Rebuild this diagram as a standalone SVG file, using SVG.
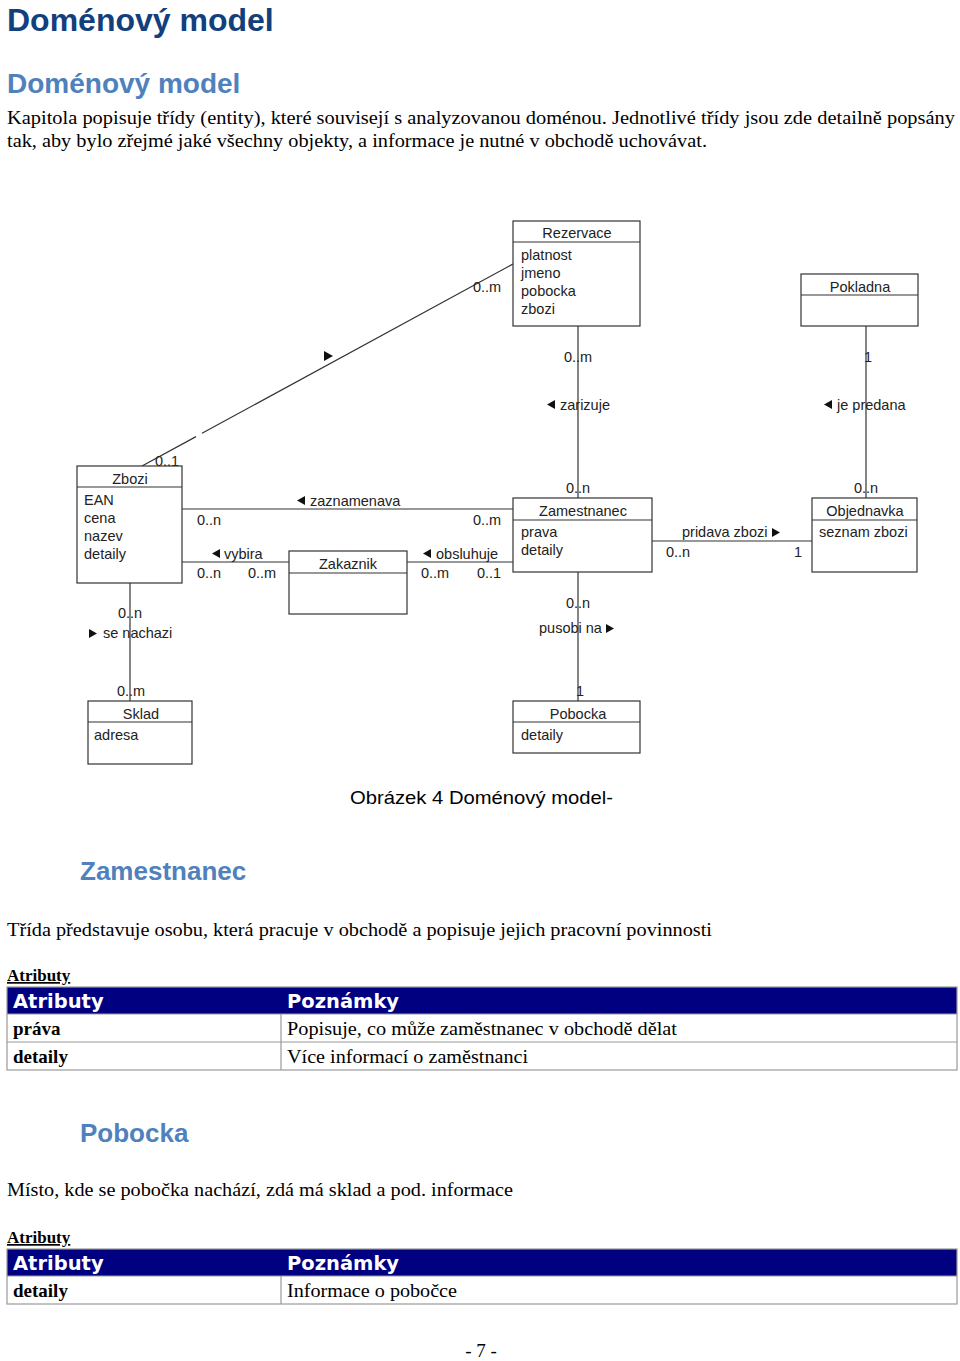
<svg xmlns="http://www.w3.org/2000/svg" width="960" height="1361" viewBox="0 0 960 1361">
<style>
.bg{fill:#fff}
.box{fill:#fff;stroke:#333;stroke-width:1.2}
.div{stroke:#333;stroke-width:1.2}
.ln{stroke:#333;stroke-width:1.2;fill:none}
.t{font-family:"Liberation Sans",Arial,sans-serif;font-size:14.5px;fill:#222}
.h{font-family:"Liberation Sans",Arial,sans-serif;font-size:14.5px;fill:#222;text-anchor:middle}
.m{font-family:"Liberation Sans",Arial,sans-serif;font-size:14.5px;fill:#222}
.tri{fill:#111}
.title{font-family:"Liberation Sans",Arial,sans-serif;font-weight:bold;font-size:32px;fill:#123f7d}
.sub{font-family:"Liberation Sans",Arial,sans-serif;font-weight:bold;font-size:28px;fill:#4f81bd}
.sec{font-family:"Liberation Sans",Arial,sans-serif;font-weight:bold;font-size:26px;fill:#4f81bd}
.p{font-family:"Liberation Serif","Times New Roman",serif;font-size:19px;fill:#000}
.pb{font-family:"Liberation Serif","Times New Roman",serif;font-size:19px;font-weight:bold;fill:#000}
.u{font-family:"Liberation Serif","Times New Roman",serif;font-size:17px;font-weight:bold;fill:#000;text-decoration:underline}
.th{font-family:"DejaVu Sans",Verdana,sans-serif;font-size:19.5px;font-weight:bold;fill:#fff}
.thead{fill:#000080}
.grid{stroke:#999;stroke-width:1.2;fill:none}
.cap{font-family:"Liberation Sans",Arial,sans-serif;font-size:19px;fill:#000}
</style>
<rect class="bg" x="0" y="0" width="960" height="1361"/>

<text class="title" x="7" y="31">Doménový model</text>
<text class="sub" x="7" y="93">Doménový model</text>
<text class="p" x="7" y="124" textLength="948" lengthAdjust="spacingAndGlyphs">Kapitola popisuje třídy (entity), které souvisejí s analyzovanou doménou. Jednotlivé třídy jsou zde detailně popsány</text>
<text class="p" x="7" y="147" textLength="700" lengthAdjust="spacingAndGlyphs">tak, aby bylo zřejmé jaké všechny objekty, a informace je nutné v obchodě uchovávat.</text>

<g id="connectors">
  <line class="ln" x1="142" y1="466" x2="196" y2="436.6"/>
  <line class="ln" x1="202" y1="433.3" x2="513" y2="264"/>
  <polygon class="tri" points="324,351 333,356 324,361"/>
  <text class="m" x="473" y="292">0..m</text>
  <text class="m" x="155" y="466">0..1</text>

  <line class="ln" x1="578" y1="326" x2="578" y2="498"/>
  <text class="m" x="564" y="362">0..m</text>
  <polygon class="tri" points="555,400 547,404.5 555,409"/>
  <text class="m" x="560" y="410">zarizuje</text>
  <text class="m" x="566" y="493">0..n</text>

  <line class="ln" x1="866" y1="326" x2="866" y2="498"/>
  <text class="m" x="864" y="362">1</text>
  <polygon class="tri" points="832,400 824,404.5 832,409"/>
  <text class="m" x="837" y="410">je predana</text>
  <text class="m" x="854" y="493">0..n</text>

  <line class="ln" x1="182" y1="509" x2="513" y2="509"/>
  <polygon class="tri" points="305,496 297,500.5 305,505"/>
  <text class="m" x="310" y="506">zaznamenava</text>
  <text class="m" x="197" y="525">0..n</text>
  <text class="m" x="473" y="525">0..m</text>

  <line class="ln" x1="182" y1="562" x2="289" y2="562"/>
  <polygon class="tri" points="220,549 212,553.5 220,558"/>
  <text class="m" x="224" y="559">vybira</text>
  <text class="m" x="197" y="578">0..n</text>
  <text class="m" x="248" y="578">0..m</text>

  <line class="ln" x1="407" y1="562" x2="513" y2="562"/>
  <polygon class="tri" points="431,549 423,553.5 431,558"/>
  <text class="m" x="436" y="559">obsluhuje</text>
  <text class="m" x="421" y="578">0..m</text>
  <text class="m" x="477" y="578">0..1</text>

  <line class="ln" x1="652" y1="541" x2="812" y2="541"/>
  <text class="m" x="682" y="537">pridava zbozi</text>
  <polygon class="tri" points="772,528 780,532.5 772,537"/>
  <text class="m" x="666" y="557">0..n</text>
  <text class="m" x="794" y="557">1</text>

  <line class="ln" x1="578" y1="572" x2="578" y2="701"/>
  <text class="m" x="566" y="608">0..n</text>
  <text class="m" x="539" y="633">pusobi na</text>
  <polygon class="tri" points="606,624 614,628.5 606,633"/>
  <text class="m" x="576" y="696">1</text>

  <line class="ln" x1="130" y1="583" x2="130" y2="701"/>
  <text class="m" x="118" y="618">0..n</text>
  <polygon class="tri" points="89,629 97,633.5 89,638"/>
  <text class="m" x="103" y="638">se nachazi</text>
  <text class="m" x="117" y="696">0..m</text>
</g>

<g id="Rezervace">
  <rect class="box" x="513" y="221" width="127" height="105"/>
  <line class="div" x1="513" y1="242" x2="640" y2="242"/>
  <text class="h" x="577" y="238">Rezervace</text>
  <text class="t" x="521" y="260">platnost</text>
  <text class="t" x="521" y="278">jmeno</text>
  <text class="t" x="521" y="296">pobocka</text>
  <text class="t" x="521" y="314">zbozi</text>
</g>
<g id="Pokladna">
  <rect class="box" x="801" y="274" width="117" height="52"/>
  <line class="div" x1="801" y1="295" x2="918" y2="295"/>
  <text class="h" x="860" y="292">Pokladna</text>
</g>
<g id="Zbozi">
  <rect class="box" x="77" y="466" width="105" height="117"/>
  <line class="div" x1="77" y1="487" x2="182" y2="487"/>
  <text class="h" x="130" y="484">Zbozi</text>
  <text class="t" x="84" y="505">EAN</text>
  <text class="t" x="84" y="523">cena</text>
  <text class="t" x="84" y="541">nazev</text>
  <text class="t" x="84" y="559">detaily</text>
</g>
<g id="Zakaznik">
  <rect class="box" x="289" y="551" width="118" height="63"/>
  <line class="div" x1="289" y1="573" x2="407" y2="573"/>
  <text class="h" x="348" y="569">Zakaznik</text>
</g>
<g id="Zamestnanec">
  <rect class="box" x="513" y="498" width="139" height="74"/>
  <line class="div" x1="513" y1="520" x2="652" y2="520"/>
  <text class="h" x="583" y="516">Zamestnanec</text>
  <text class="t" x="521" y="537">prava</text>
  <text class="t" x="521" y="555">detaily</text>
</g>
<g id="Objednavka">
  <rect class="box" x="812" y="498" width="105" height="74"/>
  <line class="div" x1="812" y1="520" x2="917" y2="520"/>
  <text class="h" x="865" y="516">Objednavka</text>
  <text class="t" x="819" y="537">seznam zbozi</text>
</g>
<g id="Sklad">
  <rect class="box" x="88" y="701" width="104" height="63"/>
  <line class="div" x1="88" y1="722" x2="192" y2="722"/>
  <text class="h" x="141" y="719">Sklad</text>
  <text class="t" x="94" y="740">adresa</text>
</g>
<g id="Pobocka">
  <rect class="box" x="513" y="701" width="127" height="52"/>
  <line class="div" x1="513" y1="722" x2="640" y2="722"/>
  <text class="h" x="578" y="719">Pobocka</text>
  <text class="t" x="521" y="740">detaily</text>
</g>

<text class="cap" x="350" y="804" textLength="263" lengthAdjust="spacingAndGlyphs">Obrázek 4 Doménový model-</text>

<text class="sec" x="80" y="880">Zamestnanec</text>
<text class="p" x="7" y="936" textLength="705" lengthAdjust="spacingAndGlyphs">Třída představuje osobu, která pracuje v obchodě a popisuje jejich pracovní povinnosti</text>
<text class="u" x="7" y="981">Atributy</text>
<g id="table1">
  <rect class="thead" x="7" y="987" width="950" height="27"/>
  <rect class="grid" x="7" y="987" width="950" height="83"/>
  <line class="grid" x1="7" y1="1014" x2="957" y2="1014"/>
  <line class="grid" x1="7" y1="1042" x2="957" y2="1042"/>
  <line class="grid" x1="281" y1="1014" x2="281" y2="1070"/>
  <text class="th" x="13" y="1008">Atributy</text>
  <text class="th" x="287" y="1008">Poznámky</text>
  <text class="pb" x="13" y="1035">práva</text>
  <text class="p" x="287" y="1035" textLength="390" lengthAdjust="spacingAndGlyphs">Popisuje, co může zaměstnanec v obchodě dělat</text>
  <text class="pb" x="13" y="1063">detaily</text>
  <text class="p" x="287" y="1063" textLength="241" lengthAdjust="spacingAndGlyphs">Více informací o zaměstnanci</text>
</g>

<text class="sec" x="80" y="1142">Pobocka</text>
<text class="p" x="7" y="1196" textLength="506" lengthAdjust="spacingAndGlyphs">Místo, kde se pobočka nachází, zdá má sklad a pod. informace</text>
<text class="u" x="7" y="1243">Atributy</text>
<g id="table2">
  <rect class="thead" x="7" y="1249" width="950" height="27"/>
  <rect class="grid" x="7" y="1249" width="950" height="55"/>
  <line class="grid" x1="7" y1="1276" x2="957" y2="1276"/>
  <line class="grid" x1="281" y1="1276" x2="281" y2="1304"/>
  <text class="th" x="13" y="1270">Atributy</text>
  <text class="th" x="287" y="1270">Poznámky</text>
  <text class="pb" x="13" y="1297">detaily</text>
  <text class="p" x="287" y="1297" textLength="170" lengthAdjust="spacingAndGlyphs">Informace o pobočce</text>
</g>

<text class="p" x="481" y="1357" text-anchor="middle">- 7 -</text>
</svg>
